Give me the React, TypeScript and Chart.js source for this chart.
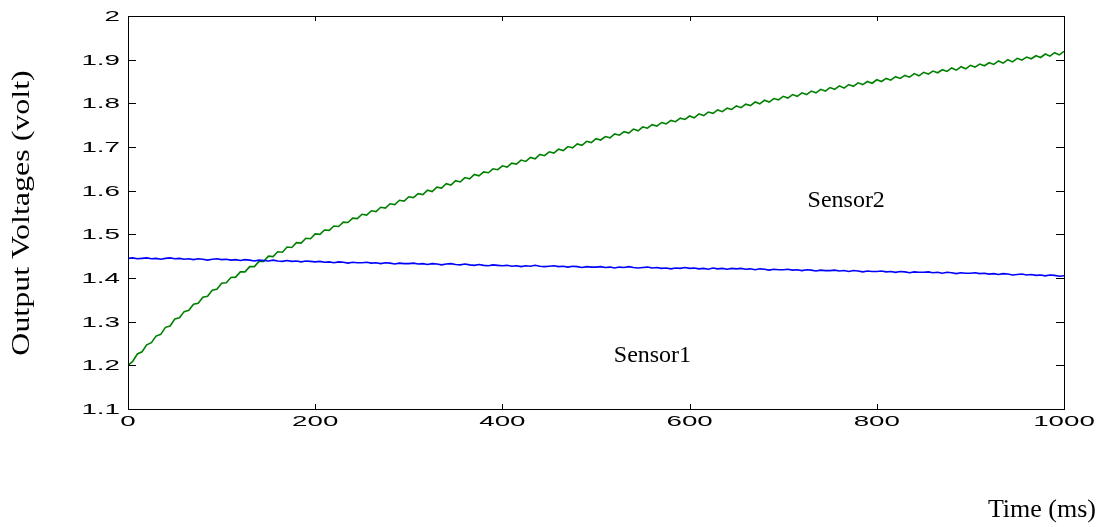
import React, { useEffect, useRef } from "react";
import { Chart, registerables } from "chart.js";

Chart.register(...registerables);

// time axis (ms), sampled every 5 ms
const timeMs: number[] = Array.from({ length: 201 }, (_, i) => i * 5);

// Sensor1 (blue) output voltage
const sensor1: number[] = [
  1.445, 1.446, 1.444, 1.445, 1.446, 1.444, 1.445, 1.443, 1.445, 1.446, 1.444,
  1.445, 1.443, 1.444, 1.442, 1.444, 1.443, 1.441, 1.443, 1.444, 1.442,
  1.443, 1.441, 1.442, 1.440, 1.442, 1.441, 1.439, 1.441, 1.440, 1.439,
  1.441, 1.439, 1.438, 1.440, 1.438, 1.439, 1.437, 1.439, 1.438, 1.437,
  1.438, 1.436, 1.437, 1.435, 1.437, 1.436, 1.434, 1.436, 1.435, 1.435,
  1.436, 1.434, 1.435, 1.433, 1.435, 1.434, 1.432, 1.434, 1.433, 1.433,
  1.434, 1.432, 1.433, 1.431, 1.433, 1.432, 1.430, 1.432, 1.433, 1.431,
  1.430, 1.432, 1.430, 1.429, 1.431, 1.429, 1.428, 1.430, 1.429, 1.428,
  1.429, 1.427, 1.428, 1.426, 1.428, 1.427, 1.429, 1.427, 1.426, 1.427,
  1.428, 1.426, 1.427, 1.425, 1.427, 1.426, 1.424, 1.426, 1.425, 1.425,
  1.426, 1.424, 1.425, 1.423, 1.425, 1.424, 1.426, 1.424, 1.423, 1.424,
  1.425, 1.423, 1.424, 1.422, 1.423, 1.421, 1.423, 1.422, 1.424, 1.422,
  1.423, 1.421, 1.422, 1.420, 1.423, 1.421, 1.422, 1.420, 1.422, 1.421,
  1.422, 1.420, 1.421, 1.419, 1.421, 1.420, 1.418, 1.420, 1.419, 1.419,
  1.420, 1.418, 1.419, 1.417, 1.419, 1.418, 1.416, 1.418, 1.417, 1.417,
  1.418, 1.416, 1.417, 1.415, 1.417, 1.416, 1.414, 1.416, 1.415, 1.415,
  1.416, 1.414, 1.415, 1.413, 1.415, 1.414, 1.412, 1.414, 1.413, 1.413,
  1.414, 1.412, 1.413, 1.411, 1.413, 1.412, 1.410, 1.412, 1.411, 1.411,
  1.412, 1.410, 1.411, 1.409, 1.410, 1.408, 1.410, 1.409, 1.407, 1.408,
  1.409, 1.407, 1.408, 1.406, 1.407, 1.405, 1.407, 1.406, 1.404, 1.405,
];

// Sensor2 (green) output voltage
const sensor2: number[] = [
  1.200, 1.209, 1.226, 1.231, 1.247, 1.252, 1.267, 1.271, 1.287, 1.290, 1.306,
  1.309, 1.323, 1.326, 1.340, 1.342, 1.356, 1.358, 1.372, 1.374, 1.388,
  1.389, 1.401, 1.402, 1.414, 1.414, 1.426, 1.426, 1.438, 1.438, 1.450,
  1.449, 1.460, 1.459, 1.471, 1.470, 1.481, 1.480, 1.491, 1.490, 1.501,
  1.500, 1.510, 1.509, 1.519, 1.518, 1.528, 1.527, 1.537, 1.536, 1.546,
  1.544, 1.554, 1.552, 1.562, 1.560, 1.570, 1.568, 1.578, 1.576, 1.586,
  1.584, 1.593, 1.591, 1.601, 1.598, 1.608, 1.606, 1.616, 1.613, 1.623,
  1.620, 1.630, 1.627, 1.637, 1.634, 1.643, 1.641, 1.650, 1.648, 1.657,
  1.654, 1.663, 1.661, 1.670, 1.667, 1.676, 1.673, 1.683, 1.680, 1.689,
  1.686, 1.695, 1.692, 1.701, 1.698, 1.707, 1.704, 1.713, 1.710, 1.719,
  1.716, 1.724, 1.721, 1.730, 1.727, 1.735, 1.732, 1.741, 1.737, 1.746,
  1.743, 1.751, 1.748, 1.756, 1.753, 1.761, 1.758, 1.766, 1.763, 1.771,
  1.767, 1.776, 1.772, 1.780, 1.777, 1.785, 1.781, 1.789, 1.786, 1.794,
  1.790, 1.798, 1.795, 1.803, 1.799, 1.807, 1.803, 1.811, 1.808, 1.816,
  1.812, 1.820, 1.816, 1.824, 1.820, 1.828, 1.824, 1.832, 1.828, 1.836,
  1.832, 1.840, 1.835, 1.843, 1.839, 1.847, 1.843, 1.850, 1.846, 1.854,
  1.850, 1.857, 1.853, 1.861, 1.857, 1.864, 1.860, 1.868, 1.863, 1.871,
  1.867, 1.874, 1.870, 1.877, 1.873, 1.881, 1.876, 1.884, 1.879, 1.887,
  1.883, 1.890, 1.886, 1.893, 1.889, 1.897, 1.892, 1.900, 1.895, 1.903,
  1.899, 1.906, 1.902, 1.909, 1.905, 1.913, 1.908, 1.916, 1.911, 1.919,
];

const xTickValues: number[] = [0, 200, 400, 600, 800, 1000];
const xTickLabels: string[] = ["0", "200", "400", "600", "800", "1000"];
const yTickValues: number[] = [1.1, 1.2, 1.3, 1.4, 1.5, 1.6, 1.7, 1.8, 1.9, 2.0];
const yTickLabels: string[] = ["1.1", "1.2", "1.3", "1.4", "1.5", "1.6", "1.7", "1.8", "1.9", "2"];

const yTitle = "Output Voltages (volt)";
const xTitle = "Time (ms)";
const seriesNames: string[] = ["Sensor1", "Sensor2"];

const W = 1108;
const H = 527;

const decorPlugin = {
  id: "matlabDecor",
  afterDraw(chart: any) {
    const ctx: CanvasRenderingContext2D = chart.ctx;
    const xs = chart.scales.x;
    const ys = chart.scales.y;
    const a = chart.chartArea;
    ctx.save();
    // frame
    ctx.strokeStyle = "#000";
    ctx.lineWidth = 1;
    ctx.strokeRect(Math.round(a.left) + 0.5, Math.round(a.top) + 0.5, Math.round(a.right - a.left), Math.round(a.bottom - a.top));
    // ticks (inside, all sides)
    ctx.beginPath();
    yTickValues.forEach((v) => {
      const py = Math.round(ys.getPixelForValue(v)) + 0.5;
      ctx.moveTo(a.left, py);
      ctx.lineTo(a.left + 8, py);
      ctx.moveTo(a.right, py);
      ctx.lineTo(a.right - 8, py);
    });
    xTickValues.forEach((v) => {
      const px = Math.round(xs.getPixelForValue(v)) + 0.5;
      ctx.moveTo(px, a.bottom);
      ctx.lineTo(px, a.bottom - 5);
      ctx.moveTo(px, a.top);
      ctx.lineTo(px, a.top + 5);
    });
    ctx.stroke();

    // tick labels (wide sans)
    ctx.fillStyle = "#000";
    ctx.font = "15px 'Liberation Sans', Arial, sans-serif";
    const sx = 1.85;
    ctx.textBaseline = "middle";
    yTickValues.forEach((v, i) => {
      const py = ys.getPixelForValue(v);
      ctx.save();
      ctx.translate(120, py + 1);
      ctx.scale(sx, 1);
      ctx.textAlign = "right";
      ctx.fillText(yTickLabels[i], 0, 0);
      ctx.restore();
    });
    xTickValues.forEach((v, i) => {
      const px = xs.getPixelForValue(v);
      ctx.save();
      ctx.translate(px, a.bottom + 13);
      ctx.scale(sx, 1);
      ctx.textAlign = "center";
      ctx.fillText(xTickLabels[i], 0, 0);
      ctx.restore();
    });

    // titles & annotations (serif)
    ctx.textBaseline = "alphabetic";
    ctx.font = "24px 'Liberation Serif', 'Times New Roman', serif";
    ctx.textAlign = "left";
    ctx.fillText(seriesNames[0], xs.getPixelForValue(519), ys.getPixelForValue(1.2075));
    ctx.fillText(seriesNames[1], xs.getPixelForValue(726), ys.getPixelForValue(1.563));

    ctx.font = "26px 'Liberation Serif', 'Times New Roman', serif";
    ctx.textAlign = "right";
    ctx.fillText(xTitle, 1096, 517);

    ctx.save();
    ctx.translate(29, 213);
    ctx.rotate(-Math.PI / 2);
    ctx.scale(1.23, 1);
    ctx.textAlign = "center";
    ctx.font = "26px 'Liberation Serif', 'Times New Roman', serif";
    ctx.fillText(yTitle, 0, 0);
    ctx.restore();

    ctx.restore();
  },
};

export default function App() {
  const ref = useRef<HTMLCanvasElement | null>(null);
  useEffect(() => {
    if (!ref.current) return;
    const chart = new Chart(ref.current, {
      type: "line",
      data: {
        datasets: [
          {
            label: seriesNames[0],
            data: timeMs.map((t, i) => ({ x: t, y: sensor1[i] })),
            borderColor: "#0000ff",
            borderWidth: 1.6,
            pointRadius: 0,
            tension: 0,
          },
          {
            label: seriesNames[1],
            data: timeMs.map((t, i) => ({ x: t, y: sensor2[i] })),
            borderColor: "#008000",
            borderWidth: 1.6,
            pointRadius: 0,
            tension: 0,
          },
        ],
      },
      options: {
        animation: false,
        responsive: false,
        devicePixelRatio: 1,
        layout: { padding: { top: 16, right: 44, left: 0, bottom: 0 } },
        plugins: { legend: { display: false }, tooltip: { enabled: false } },
        scales: {
          x: {
            type: "linear",
            min: 0,
            max: 1000,
            ticks: { display: false, stepSize: 200 },
            grid: { display: false },
            border: { display: false },
            afterFit: (s: any) => {
              s.height = 118;
            },
          },
          y: {
            type: "linear",
            min: 1.1,
            max: 2,
            ticks: { display: false, stepSize: 0.1 },
            grid: { display: false },
            border: { display: false },
            afterFit: (s: any) => {
              s.width = 128;
            },
          },
        },
      },
      plugins: [decorPlugin],
    });
    return () => chart.destroy();
  }, []);
  return (
    <div style={{ position: "absolute", left: 0, top: 0, width: W, height: H, background: "#fff" }}>
      <canvas ref={ref} width={W} height={H} style={{ width: W, height: H, display: "block" }} />
    </div>
  );
}
